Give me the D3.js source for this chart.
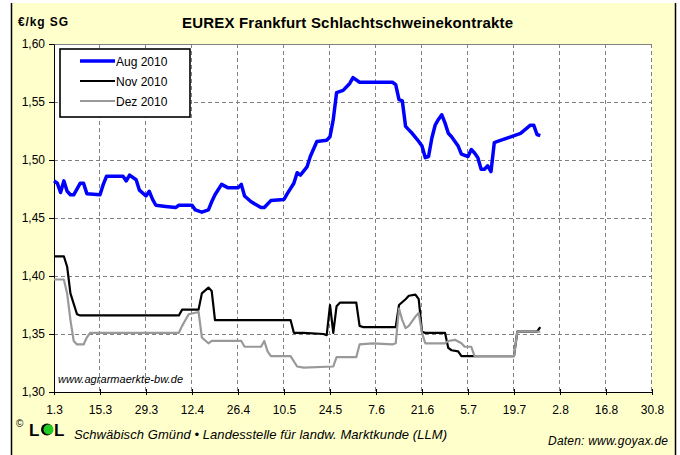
<!DOCTYPE html>
<html>
<head>
<meta charset="utf-8">
<script src="https://cdn.jsdelivr.net/npm/d3@7"></script>
<style>
  body { margin: 0; background: #fff; }
  svg { display: block; }
  text { font-family: Arial, "Liberation Sans", sans-serif; fill: #000; }
</style>
</head>
<body>
<svg id="chart" width="680" height="455"></svg>
<script>
// ---- data ----
var xTickLabels = ["1.3", "15.3", "29.3", "12.4", "26.4", "10.5", "24.5", "7.6", "21.6", "5.7", "19.7", "2.8", "16.8", "30.8"];
var yTicks = [1.30, 1.35, 1.40, 1.45, 1.50, 1.55, 1.60];
var seriesNames = ["Aug 2010", "Nov 2010", "Dez 2010"];
var seriesColors = ["#0000ff", "#000000", "#999999"];

var augDates = ["1.3","2.3","3.3","4.3","5.3","6.3","7.3","9.3","10.3","11.3","15.3","16.3","17.3","22.3","23.3","24.3","26.3","27.3","29.3","30.3","31.3",
  "1.4","4.4","7.4","8.4","12.4","13.4","15.4","17.4","18.4","19.4","21.4","23.4","26.4","27.4","28.4","30.4",
  "3.5","4.5","6.5","10.5","11.5","13.5","14.5","15.5","17.5","18.5","20.5","23.5","24.5","25.5","26.5","28.5","30.5","31.5",
  "2.6","12.6","13.6","14.6","15.6","16.6","17.6","18.6","20.6","21.6","22.6","23.6","24.6","25.6","26.6","27.6","28.6","29.6","30.6",
  "2.7","3.7","5.7","6.7","7.7","8.7","9.7","10.7","11.7","12.7","13.7","14.7","16.7","18.7","21.7","24.7","25.7","26.7","27.7"];
var augValues = [1.482,1.480,1.472,1.482,1.473,1.470,1.470,1.480,1.480,1.471,1.470,1.479,1.486,1.486,1.482,1.487,1.483,1.474,1.469,1.473,1.466,
  1.461,1.460,1.459,1.461,1.461,1.457,1.455,1.457,1.464,1.470,1.479,1.476,1.476,1.479,1.469,1.464,
  1.459,1.459,1.465,1.466,1.471,1.480,1.489,1.487,1.494,1.503,1.516,1.517,1.520,1.535,1.558,1.560,1.566,1.571,
  1.567,1.567,1.565,1.552,1.551,1.529,1.526,1.523,1.516,1.512,1.502,1.503,1.519,1.530,1.535,1.539,1.532,1.523,1.520,
  1.512,1.505,1.503,1.509,1.506,1.502,1.492,1.492,1.495,1.490,1.515,1.516,1.518,1.520,1.523,1.530,1.530,1.522,1.521];

var novDates = ["1.3","4.3","5.3","6.3","8.3","9.3","8.4","9.4","14.4","15.4","17.4","18.4","19.4",
  "12.5","13.5","16.5","22.5","23.5","24.5","25.5","26.5","27.5",
  "1.6","2.6","3.6","13.6","14.6","16.6","17.6","19.6","20.6","21.6","22.6","28.6","29.6","30.6",
  "2.7","3.7","7.7","19.7","20.7","26.7","27.7"];
var novValues = [1.417,1.417,1.408,1.385,1.367,1.366,1.366,1.371,1.371,1.385,1.390,1.387,1.362,
  1.362,1.351,1.351,1.350,1.349,1.375,1.351,1.374,1.377,
  1.377,1.357,1.356,1.356,1.375,1.380,1.383,1.384,1.380,1.352,1.351,1.351,1.338,1.336,
  1.335,1.331,1.331,1.331,1.352,1.352,1.356];

var dezDates = ["1.3","4.3","5.3","6.3","7.3","8.3","10.3","11.3","12.3",
  "8.4","9.4","10.4","11.4","14.4","15.4","17.4","18.4","27.4","28.4",
  "3.5","4.5","5.5","6.5","12.5","14.5","16.5","25.5","26.5",
  "1.6","2.6","6.6","12.6","13.6","14.6","15.6","16.6","17.6","19.6","20.6","21.6","22.6","28.6","29.6",
  "1.7","3.7","4.7","6.7","7.7","19.7","20.7","27.7"];
var dezValues = [1.397,1.397,1.385,1.362,1.344,1.341,1.341,1.347,1.351,
  1.351,1.357,1.362,1.367,1.369,1.347,1.342,1.344,1.344,1.339,
  1.339,1.344,1.335,1.331,1.331,1.322,1.321,1.322,1.330,
  1.330,1.341,1.342,1.341,1.342,1.372,1.362,1.355,1.357,1.365,1.368,1.351,1.342,1.342,1.344,
  1.345,1.342,1.339,1.339,1.331,1.331,1.352,1.352];

// ---- drawing ----
var parseDay = d3.timeParse("%d.%m.%Y");
function toDate(s) { return parseDay(s + ".2010"); }
var de = d3.formatLocale({ decimal: ",", thousands: ".", grouping: [3], currency: ["", " €"] });

var svg = d3.select("#chart");
var plotLeft = 54, plotRight = 652, plotTop = 44, plotBottom = 392;

var x = d3.scaleTime()
  .domain([toDate(xTickLabels[0]), toDate(xTickLabels[xTickLabels.length - 1])])
  .range([plotLeft, plotRight]);
var y = d3.scaleLinear().domain([1.30, 1.60]).range([plotBottom, plotTop]);

// page background with side borders
svg.append("rect").attr("x", 12).attr("y", 3).attr("width", 663).attr("height", 452).attr("fill", "#ffffcc");
svg.append("line").attr("x1", 11.5).attr("x2", 11.5).attr("y1", 3).attr("y2", 455).attr("stroke", "#000").attr("stroke-width", 1.5);
svg.append("line").attr("x1", 675.5).attr("x2", 675.5).attr("y1", 3).attr("y2", 455).attr("stroke", "#000").attr("stroke-width", 1.5);

// plot area
svg.append("rect").attr("x", plotLeft).attr("y", plotTop).attr("width", plotRight - plotLeft).attr("height", plotBottom - plotTop).attr("fill", "#fff");
svg.append("line").attr("x1", plotLeft).attr("x2", plotRight).attr("y1", plotTop + 0.5).attr("y2", plotTop + 0.5).attr("stroke", "#808080");

// grid
var grid = svg.append("g").attr("stroke", "#808080").attr("stroke-dasharray", "4,3").attr("shape-rendering", "crispEdges");
grid.selectAll(".hg").data(yTicks.slice(1, -1)).enter().append("line")
  .attr("x1", plotLeft).attr("x2", plotRight)
  .attr("y1", function (d) { return Math.round(y(d)) + 0.5; })
  .attr("y2", function (d) { return Math.round(y(d)) + 0.5; });
grid.selectAll(".vg").data(xTickLabels.slice(1)).enter().append("line")
  .attr("y1", plotTop).attr("y2", plotBottom)
  .attr("x1", function (d) { return Math.round(x(toDate(d))) - 0.5; })
  .attr("x2", function (d) { return Math.round(x(toDate(d))) - 0.5; });

// axes
var axisX = d3.axisBottom(x)
  .tickValues(xTickLabels.map(toDate))
  .tickFormat(d3.timeFormat("%-d.%-m"))
  .tickSizeInner(3).tickSizeOuter(0).tickPadding(10);
var gx = svg.append("g").attr("transform", "translate(0," + plotBottom + ")").call(axisX);
gx.selectAll(".tick line").attr("y1", -3).attr("y2", 3);
gx.selectAll("text").style("font-size", "12px").attr("fill", "#000");

var axisY = d3.axisLeft(y)
  .tickValues(yTicks)
  .tickFormat(de.format(".2f"))
  .tickSizeInner(5).tickSizeOuter(0).tickPadding(4);
var gy = svg.append("g").attr("transform", "translate(" + plotLeft + ",0)").call(axisY);
gy.selectAll("text").style("font-size", "12px").attr("fill", "#000");
svg.selectAll(".domain").attr("stroke", "#000");

// series
var fnLine = d3.line()
  .x(function (d) { return x(d.date); })
  .y(function (d) { return y(d.value); });
function pack(dates, values) {
  return dates.map(function (d, i) { return { date: toDate(d), value: values[i] }; });
}
var allSeries = [pack(augDates, augValues), pack(novDates, novValues), pack(dezDates, dezValues)];
var widths = [3.5, 2.2, 2.2];
allSeries.forEach(function (values, i) {
  svg.append("path").datum(values)
    .attr("fill", "none")
    .attr("stroke", seriesColors[i])
    .attr("stroke-width", widths[i])
    .attr("stroke-linejoin", "round")
    .attr("d", fnLine);
});

// legend
var legend = svg.append("g");
legend.append("rect").attr("x", 60).attr("y", 49).attr("width", 130).attr("height", 68)
  .attr("fill", "#fff").attr("stroke", "#000").attr("stroke-width", 1.6);
seriesNames.forEach(function (name, i) {
  var ly = 61 + i * 20;
  legend.append("line").attr("x1", 80).attr("x2", 115).attr("y1", ly).attr("y2", ly)
    .attr("stroke", seriesColors[i]).attr("stroke-width", i === 0 ? 3.5 : 2.2);
  legend.append("text").attr("x", 116).attr("y", ly + 4.5).style("font-size", "12px").text(name);
});

// titles and credits
svg.append("text").attr("x", 182).attr("y", 28).attr("textLength", 331)
  .style("font-size", "15px").style("font-weight", "bold").text("EUREX Frankfurt Schlachtschweinekontrakte");
svg.append("text").attr("x", 18).attr("y", 26).attr("textLength", 50)
  .style("font-size", "12px").style("font-weight", "bold").text("€/kg SG");
svg.append("text").attr("x", 58).attr("y", 383).attr("textLength", 125)
  .style("font-size", "11px").style("font-style", "italic").text("www.agrarmaerkte-bw.de");

svg.append("text").attr("x", 16).attr("y", 427).style("font-size", "10px").text("©");
svg.append("text").attr("x", 29).attr("y", 436).style("font-size", "17px").style("font-weight", "bold").text("L");
svg.append("circle").attr("cx", 47).attr("cy", 429.5).attr("r", 6).attr("fill", "#000");
svg.append("circle").attr("cx", 48.5).attr("cy", 429.5).attr("r", 5).attr("fill", "#22cc22");
svg.append("text").attr("x", 54).attr("y", 436).style("font-size", "17px").style("font-weight", "bold").text("L");
svg.append("text").attr("x", 74).attr("y", 439).attr("textLength", 373)
  .style("font-size", "13px").style("font-style", "italic")
  .text("Schwäbisch Gmünd • Landesstelle für landw. Marktkunde (LLM)");
svg.append("text").attr("x", 548).attr("y", 445).attr("textLength", 120)
  .style("font-size", "12px").style("font-style", "italic").text("Daten: www.goyax.de");
</script>
</body>
</html>
